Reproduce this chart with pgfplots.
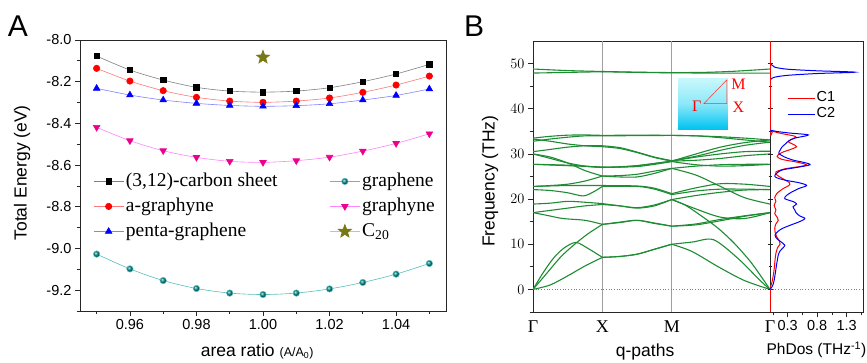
\documentclass[border=0pt]{standalone}
\usepackage{fontspec}
\setmainfont{Liberation Sans}
\newfontfamily\serif{Liberation Serif}
\usepackage{pgfplots}
\pgfplotsset{compat=1.18}
\definecolor{bandgreen}{RGB}{30,140,50}
\definecolor{cteal}{RGB}{0,140,140}
\definecolor{olivestar}{RGB}{120,120,20}
\definecolor{insettop}{RGB}{200,248,252}
\definecolor{insetbot}{RGB}{0,195,240}
\pgfdeclareplotmark{fstar}{%
  \pgfpathmoveto{\pgfqpointpolar{90}{\pgfplotmarksize}}%
  \pgfpathlineto{\pgfqpointpolar{126}{0.42\pgfplotmarksize}}%
  \pgfpathlineto{\pgfqpointpolar{162}{\pgfplotmarksize}}%
  \pgfpathlineto{\pgfqpointpolar{198}{0.42\pgfplotmarksize}}%
  \pgfpathlineto{\pgfqpointpolar{234}{\pgfplotmarksize}}%
  \pgfpathlineto{\pgfqpointpolar{270}{0.42\pgfplotmarksize}}%
  \pgfpathlineto{\pgfqpointpolar{306}{\pgfplotmarksize}}%
  \pgfpathlineto{\pgfqpointpolar{342}{0.42\pgfplotmarksize}}%
  \pgfpathlineto{\pgfqpointpolar{18}{\pgfplotmarksize}}%
  \pgfpathlineto{\pgfqpointpolar{54}{0.42\pgfplotmarksize}}%
  \pgfpathclose
  \pgfusepathqfillstroke
}
\pgfplotsset{
  band/.style={bandgreen, line width=1.1pt, smooth, no marks, unbounded coords=jump},
  every axis/.append style={
    scale only axis,
    axis line style={line width=0.9pt, black!85},
    tick style={line width=0.8pt, black!85},
    major tick length=5pt, minor tick length=3pt,
    ticklabel style={font=\fontsize{14.5}{16}\selectfont},
    label style={font=\fontsize{17.5}{19}\selectfont},
  },
}
\begin{document}
\begin{tikzpicture}
\path[use as bounding box] (0pt,0pt) rectangle (867pt,362pt);
\node[font=\fontsize{30}{30}\selectfont] at (18pt,336pt) {A};
\node[font=\fontsize{30}{30}\selectfont] at (474pt,336pt) {B};

% ---------------- Panel A ----------------
\begin{axis}[
  at={(80pt,51pt)}, anchor=south west, width=366pt, height=271pt,
  xmin=0.945, xmax=1.055, ymin=-9.3, ymax=-8.0,
  xtick={0.96,0.98,1.00,1.02,1.04}, xticklabels={0.96,0.98,1.00,1.02,1.04},
  minor xtick={0.95,0.97,0.99,1.01,1.03,1.05},
  ytick={-9.2,-9.0,-8.8,-8.6,-8.4,-8.2,-8.0},
  yticklabels={-9.2,-9.0,-8.8,-8.6,-8.4,-8.2,-8.0},
  minor ytick={-9.3,-9.1,-8.9,-8.7,-8.5,-8.3,-8.1},
  tick align=outside, xtick pos=bottom, ytick pos=left,
  xlabel={area ratio {\fontsize{12.5}{13}\selectfont(A/A\textsubscript{0})}},
  xlabel style={at={(axis description cs:0.484,-0.151)}, anchor=center},
  ylabel={Total Energy (eV)},
  ylabel style={at={(axis description cs:-0.158,0.51)}, anchor=center},
  legend image code/.code={\draw[mark repeat=2,mark phase=2,#1] plot coordinates {(0pt,0pt) (15pt,0pt) (30pt,0pt)};},
  legend style={at={(axis description cs:0.036,0.525)}, anchor=north west,
    draw=none, fill=none, inner sep=0pt,
    font=\serif\fontsize{19.5}{21}\selectfont,
    nodes={inner sep=2pt, text height=15.5pt, text depth=5.5pt},
    /tikz/every even column/.append style={column sep=50pt}},
  legend columns=2, legend cell align=left,
]
\addplot[color=gray, line width=0.6pt, smooth, mark=square*, mark size=2.7pt,
  mark options={draw=black, fill=black}] coordinates {
  (0.95,-8.077)(0.96,-8.144)(0.97,-8.192)(0.98,-8.227)(0.99,-8.245)(1.00,-8.250)
  (1.01,-8.245)(1.02,-8.229)(1.03,-8.200)(1.04,-8.163)(1.05,-8.117)};
\addlegendentry{(3,12)-carbon sheet}
\addplot[color={rgb,255:red,90;green,190;blue,190}, line width=0.6pt, smooth, mark=ball, mark size=3.2pt,
  mark options={ball color=cteal}] coordinates {
  (0.95,-9.027)(0.96,-9.098)(0.97,-9.154)(0.98,-9.192)(0.99,-9.214)(1.00,-9.221)
  (1.01,-9.214)(1.02,-9.194)(1.03,-9.163)(1.04,-9.123)(1.05,-9.072)};
\addlegendentry{graphene}
\addplot[color={rgb,255:red,255;green,120;blue,120}, line width=0.6pt, smooth, mark=*, mark size=3.2pt,
  mark options={draw=red, fill=red}] coordinates {
  (0.95,-8.136)(0.96,-8.197)(0.97,-8.243)(0.98,-8.275)(0.99,-8.293)(1.00,-8.299)
  (1.01,-8.293)(1.02,-8.278)(1.03,-8.251)(1.04,-8.216)(1.05,-8.173)};
\addlegendentry{a-graphyne}
\addplot[color={rgb,255:red,255;green,130;blue,255}, line width=0.6pt, smooth, mark=triangle*, mark size=3.8pt,
  mark options={draw=magenta, fill=magenta, rotate=180}] coordinates {
  (0.95,-8.419)(0.96,-8.483)(0.97,-8.531)(0.98,-8.563)(0.99,-8.582)(1.00,-8.587)
  (1.01,-8.579)(1.02,-8.562)(1.03,-8.533)(1.04,-8.496)(1.05,-8.450)};
\addlegendentry{graphyne}
\addplot[color={rgb,255:red,130;green,130;blue,255}, line width=0.6pt, smooth, mark=triangle*, mark size=3.8pt,
  mark options={draw=blue, fill=blue}] coordinates {
  (0.95,-8.232)(0.96,-8.264)(0.97,-8.288)(0.98,-8.304)(0.99,-8.314)(1.00,-8.318)
  (1.01,-8.315)(1.02,-8.306)(1.03,-8.288)(1.04,-8.266)(1.05,-8.235)};
\addlegendentry{penta-graphene}
\addplot[color={rgb,255:red,200;green,200;blue,140}, line width=0.6pt, mark=fstar, mark size=7pt,
  mark options={draw=olivestar, fill=olivestar}] coordinates {(1.00,-8.083)};
\addlegendentry{C\textsubscript{20}}
\end{axis}

% ---------------- Panel B: bands ----------------
\begin{axis}[
  at={(533pt,50pt)}, anchor=south west, width=237pt, height=271pt,
  xmin=0, xmax=3.4142, ymin=-5, ymax=55,
  xtick={0,1,2,3.4142}, xticklabels={Γ,X,M,Γ},
  xticklabel style={font=\serif\fontsize{18}{18}\selectfont},
  xtick style={draw=none},
  ytick={0,10,20,30,40,50}, minor ytick={-5,5,15,25,35,45},
  tick align=outside, ytick pos=left,
  xlabel={q-paths},
  xlabel style={at={(axis description cs:0.473,-0.148)}, anchor=center},
  ylabel={Frequency (THz)},
  ylabel style={at={(axis description cs:-0.181,0.483)}, anchor=center},
  clip=true,
]
\draw[gray!75, line width=0.7pt] (axis cs:1,-5) -- (axis cs:1,55);
\draw[gray!75, line width=0.7pt] (axis cs:2,-5) -- (axis cs:2,55);
\draw[gray, dotted, line width=0.7pt] (axis cs:0,0) -- (axis cs:3.4142,0);
\shade[top color=insettop, bottom color=insetbot, middle color=insettop!70!insetbot]
  (axis cs:2.09,46.7) rectangle (axis cs:2.806,35.5);
\draw[red!80, line width=0.5pt] (axis cs:2.463,41.15) -- (axis cs:2.792,41.15) -- (axis cs:2.792,46.4) -- cycle;
\node[red, font=\serif\fontsize{16}{16}\selectfont] at (axis cs:2.96,45.4) {M};
\node[red, font=\serif\fontsize{16}{16}\selectfont] at (axis cs:2.96,40.3) {X};
\node[red, font=\serif\fontsize{16}{16}\selectfont] at (axis cs:2.36,40.5) {Γ};
% top bands
\addplot[band] coordinates {(0,48.8)(0.5,48.45)(1,48.25)(1,nan)(1,48.25)(1.5,48.1)(2,48.0)(2,nan)(2,48.0)(2.45,48.05)(2.9,48.3)(3.414,48.8)};
\addplot[band] coordinates {(0,47.9)(0.5,48.05)(1,48.2)(1,nan)(1,48.2)(1.5,48.05)(2,47.95)(2,nan)(2,47.95)(2.7,47.9)(3.414,47.9)};
% optical bands
\addplot[band] coordinates {(0,33.5)(0.25,33.9)(0.5,34.15)(0.75,34.2)(1,34.1)(1,nan)(1,34.1)(1.5,34.15)(2,34.1)(2,nan)(2,34.1)(2.35,34.0)(2.7,33.8)(3.05,33.5)(3.414,33.1)};
\addplot[band] coordinates {(0,32.8)(0.25,33.3)(0.5,33.7)(0.75,34.0)(1,34.0)(1,nan)(1,34.0)(1.5,34.05)(2,34.1)(2,nan)(2,34.1)(2.35,34.0)(2.7,33.6)(3.05,33.1)(3.414,32.6)};
\addplot[band] coordinates {(0,33.3)(0.25,32.8)(0.5,32.2)(0.75,31.8)(1,31.6)(1,nan)(1,31.6)(1.25,31.2)(1.5,30.3)(1.75,29.2)(2,28.4)(2,nan)(2,28.4)(2.35,30.0)(2.7,31.5)(3.05,32.5)(3.414,33.1)};
\addplot[band] coordinates {(0,30.5)(0.25,31.0)(0.5,31.5)(0.75,31.8)(1,31.8)(1,nan)(1,31.8)(1.25,31.4)(1.5,30.4)(1.75,29.3)(2,28.5)(2,nan)(2,28.5)(2.35,29.5)(2.7,30.8)(3.05,31.9)(3.414,32.6)};
\addplot[band] coordinates {(0,30.0)(0.25,29.0)(0.5,28.0)(0.75,27.3)(1,27.0)(1,nan)(1,27.0)(1.25,27.1)(1.5,27.4)(1.75,27.9)(2,28.4)(2,nan)(2,28.4)(2.35,29.3)(2.7,30.0)(3.05,30.5)(3.414,30.6)};
\addplot[band] coordinates {(0,30.0)(0.25,29.3)(0.5,28.0)(0.75,26.3)(1,25.1)(1,nan)(1,25.1)(1.25,24.9)(1.5,24.9)(1.75,25.7)(2,26.8)(2,nan)(2,26.8)(2.35,25.3)(2.7,22.8)(3.05,20.3)(3.414,18.9)};
\addplot[band] coordinates {(0,27.7)(0.5,27.5)(1,27.0)(1,nan)(1,27.0)(1.5,27.4)(2,28.4)(2,nan)(2,28.4)(2.35,28.6)(2.7,29.0)(3.05,29.6)(3.414,30.0)};
\addplot[band] coordinates {(0,27.7)(0.5,27.4)(1,27.1)(1,nan)(1,27.1)(1.5,27.2)(2,28.3)(2,nan)(2,28.3)(2.35,27.6)(2.7,27.3)(3.05,27.4)(3.414,27.7)};
\addplot[band] coordinates {(0,22.8)(0.25,23.0)(0.5,23.3)(0.75,24.0)(1,25.1)(1,nan)(1,25.1)(1.25,25.2)(1.5,25.5)(1.75,26.2)(2,26.8)(2,nan)(2,26.8)(2.35,27.3)(2.7,27.6)(3.05,27.7)(3.414,27.7)};
\addplot[band] coordinates {(0,22.8)(0.5,23.0)(1,23.0)(1,nan)(1,23.0)(1.5,22.9)(1.75,22.4)(2,21.2)(2,nan)(2,21.2)(2.35,22.5)(2.7,23.4)(3.05,23.3)(3.414,22.8)};
\addplot[band] coordinates {(0,22.1)(0.25,21.9)(0.5,21.4)(0.72,20.7)(0.86,21.5)(1,22.8)(1,nan)(1,22.8)(1.5,22.8)(1.75,22.2)(2,21.0)(2,nan)(2,21.0)(2.35,21.8)(2.7,22.2)(3.05,22.2)(3.414,22.1)};
\addplot[band] coordinates {(0,18.9)(0.25,19.1)(0.5,19.5)(0.75,19.3)(1,19.0)(1,nan)(1,19.0)(1.25,18.5)(1.5,18.0)(1.75,18.5)(2,19.9)(2,nan)(2,19.9)(2.35,20.8)(2.7,21.5)(3.05,22.0)(3.414,22.1)};
\addplot[band] coordinates {(0,17.0)(0.25,17.5)(0.5,18.0)(0.75,18.5)(1,18.8)(1,nan)(1,18.8)(1.25,18.5)(1.5,18.1)(1.75,18.7)(2,19.9)(2,nan)(2,19.9)(2.2,18.6)(2.45,16.0)(2.67,13.5)(2.9,10.2)(3.15,5.8)(3.414,0)};
\addplot[band] coordinates {(0,17.0)(0.2,16.4)(0.43,15.7)(0.75,15.3)(1,14.4)(1,nan)(1,14.4)(1.25,14.8)(1.5,15.3)(1.75,14.7)(2,14.0)(2,nan)(2,14.0)(2.35,14.3)(2.7,15.2)(3.05,16.2)(3.414,17.0)};
\addplot[band] coordinates {(2,19.9)(2.35,17.8)(2.7,16.0)(3.05,15.7)(3.414,17.0)};
% acoustic bands
\addplot[band] coordinates {(0,0)(0.2,3.6)(0.4,7.2)(0.6,10.0)(0.8,12.4)(1,14.4)(1,nan)(1,14.4)(1.25,14.9)(1.5,15.3)(1.75,14.6)(2,14.0)(2,nan)(2,14.0)(2.35,14.5)(2.7,15.5)(3.05,16.3)(3.414,17.0)};
\addplot[band] coordinates {(0,0)(0.15,3.8)(0.3,7.0)(0.45,9.2)(0.62,10.4)(0.8,9.0)(1,7.1)(1,nan)(1,7.1)(1.25,7.3)(1.5,7.8)(1.75,8.9)(2,10.0)(2,nan)(2,10.0)(2.3,10.5)(2.6,11.0)(2.95,6.9)(3.27,2.0)(3.414,0)};
\addplot[band] coordinates {(0,0)(0.25,1.0)(0.5,3.0)(0.75,5.2)(1,7.1)(1,nan)(1,7.1)(1.25,7.3)(1.5,7.8)(1.75,8.9)(2,10.0)(2,nan)(2,10.0)(2.29,8.4)(2.67,5.0)(3.04,2.0)(3.414,0)};
\end{axis}

% ---------------- Panel B: PhDOS ----------------
\begin{axis}[
  at={(770pt,50pt)}, anchor=south west, width=93pt, height=271pt,
  xmin=0, xmax=1.576, ymin=-5, ymax=55,
  xtick={0.3,0.8,1.3}, xticklabels={0.3,0.8,1.3},
  minor xtick={0.05,0.55,1.05,1.55},
  xtick align=outside, xtick pos=bottom,
  ytick={0,10,20,30,40,50}, minor ytick={-5,5,15,25,35,45}, yticklabels={},
  ytick align=center, ytick pos=left,
  xlabel={PhDos (THz\textsuperscript{-1})},
  xlabel style={at={(axis description cs:0.5,-0.14)}, anchor=center, font=\fontsize{15.5}{17}\selectfont},
  legend image code/.code={\draw[#1] (0pt,0pt) -- (27pt,0pt);},
  legend style={at={(axis description cs:0.183,0.819)}, anchor=north west,
    draw=none, fill=none, inner sep=0pt,
    font=\fontsize{14.5}{16}\selectfont,
    nodes={inner sep=1.5pt, text height=10pt, text depth=3pt}},
  legend cell align=left,
  clip=true,
]
\draw[gray, dotted, line width=0.7pt] (axis cs:0,0) -- (axis cs:1.576,0);
\addplot[red, line width=1pt, smooth] coordinates {
 (0,-5)(0,0)(0.02,1.0)(0.04,2.0)(0.06,3.5)(0.075,5.0)(0.085,6.5)(0.1,8.0)(0.13,9.3)(0.17,10.0)(0.16,10.7)
 (0.12,11.5)(0.09,12.5)(0.08,13.5)(0.1,14.5)(0.14,15.3)(0.12,16.0)(0.08,16.8)(0.1,17.6)(0.07,18.6)(0.1,19.5)
 (0.08,20.3)(0.12,21.3)(0.22,22.3)(0.32,23.0)(0.33,23.6)(0.22,24.5)(0.12,25.3)(0.1,26.0)(0.25,26.7)(0.5,27.2)
 (0.62,27.6)(0.45,28.2)(0.2,28.8)(0.12,29.5)(0.2,30.3)(0.35,31.0)(0.45,31.6)(0.38,32.2)(0.31,32.7)(0.36,33.2)
 (0.44,33.7)(0.4,34.0)(0.2,34.5)(0.05,35.0)(0,35.3)(0,55)};
\addlegendentry{C1}
\addplot[blue, line width=1pt, smooth, unbounded coords=jump] coordinates {
 (0,0)(0.03,0.5)(0.05,1.0)(0.07,2.0)(0.085,3.2)(0.1,4.5)(0.11,5.4)(0.125,6.5)(0.14,7.6)(0.17,8.5)(0.22,9.2)
 (0.25,9.8)(0.19,10.5)(0.12,11.2)(0.085,12.0)(0.13,12.8)(0.21,13.5)(0.36,14.3)(0.5,15.0)(0.59,15.7)(0.5,16.3)
 (0.44,17.0)(0.42,17.6)(0.39,18.3)(0.45,18.9)(0.4,19.4)(0.25,20.1)(0.28,20.8)(0.36,21.5)(0.48,22.3)(0.62,23.0)
 (0.5,23.6)(0.25,24.2)(0.1,24.8)(0.085,25.3)(0.14,26.0)(0.22,26.5)(0.45,27.0)(0.68,27.6)(0.58,28.1)(0.4,28.6)
 (0.25,29.3)(0.15,30.1)(0.17,30.8)(0.2,31.5)(0.26,32.2)(0.32,32.9)(0.42,33.5)(0.65,34.2)(0.35,34.6)(0.1,35.0)
 (0,35.3)(nan,40)
 (0,46.3)(0.02,46.6)(0.08,47.0)(0.3,47.4)(0.8,47.8)(1.44,48.1)(0.8,48.4)(0.3,48.75)(0.08,49.2)(0.03,49.7)(0,50.2)};
\addlegendentry{C2}
\addplot[red, line width=1pt, forget plot] coordinates {(0,-5)(0,0)};
\addplot[red, line width=1pt, forget plot] coordinates {(0,35.3)(0,55)};
\end{axis}
\end{tikzpicture}
\end{document}
